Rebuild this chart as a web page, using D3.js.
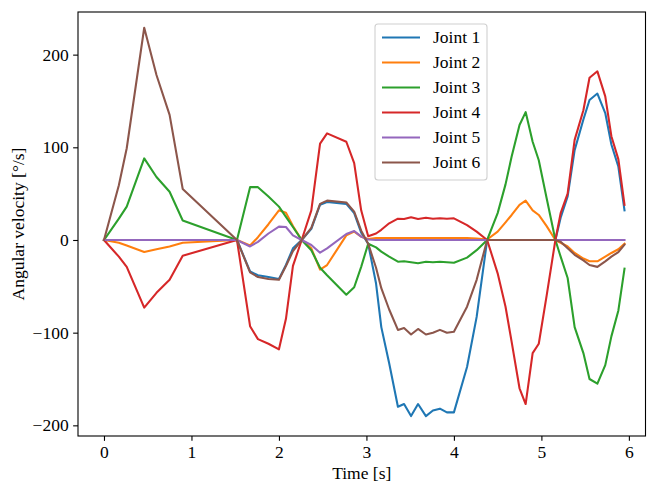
<!DOCTYPE html>
<html>
<head>
<meta charset="utf-8">
<script src="https://cdn.jsdelivr.net/npm/d3@7"></script>
<style>
  html, body { margin: 0; padding: 0; background: #fff; }
  svg { display: block; }
  text { font-family: "Liberation Serif", "DejaVu Serif", serif; fill: #000; }
</style>
</head>
<body>
<svg id="chart" width="647" height="487"></svg>
<script>
// ---- data ----
const times = [
  0, 0.17, 0.26, 0.46, 0.6, 0.75, 0.9, 1.52,
  1.67, 1.76, 1.88, 2.0, 2.08, 2.16, 2.26,
  2.37, 2.47, 2.55, 2.77, 2.86, 2.94, 3.02,
  3.11, 3.17, 3.26, 3.36, 3.43, 3.51, 3.59, 3.68, 3.76, 3.84, 3.92, 4.0, 4.15, 4.26, 4.38,
  4.5, 4.59, 4.66, 4.75, 4.82, 4.9, 4.97, 5.06, 5.16,
  5.22, 5.3, 5.38, 5.48, 5.55, 5.64, 5.73, 5.8, 5.88, 5.95
];
const joint1 = [
  0, 0, 0, 0, 0, 0, 0, 0,
  -34, -38, -40, -42, -27, -9, 0,
  12, 38, 41, 39, 29, 8, -4,
  -47, -94, -133, -180, -177, -190, -177, -190, -184, -182, -186, -186, -137, -83, 0,
  0, 0, 0, 0, 0, 0, 0, 0, 0,
  24, 47, 97, 130, 151, 158, 137, 103, 79, 32
];
const joint2 = [
  0, -3, -6, -13, -10, -7, -3, 0,
  -6, 3, 17, 32, 29.5, 15, 0,
  -9, -32, -27, 5, 9, 3.6, 1,
  2, 2, 2, 2, 2, 2, 2, 2, 2, 2, 2, 2, 2, 1.5, 0.5,
  9, 19, 27, 38, 42.5, 32, 27, 15, 0,
  -3, -7, -14, -20, -23, -23, -18, -14, -10, -4
];
const joint3 = [
  0, 23, 36, 88, 68, 52, 21, 0,
  57, 57, 47, 36, 25, 14, 0,
  -11, -30, -38, -59, -51, -29, -4,
  -8, -12.6, -18, -23.4, -23, -24, -25, -23.4, -24, -23.4, -24, -24.5, -19, -11, 0,
  29, 60, 90, 124, 138, 106, 86, 45, 0,
  -18, -41, -94, -122, -150, -155, -135, -104, -76, -31
];
const joint4 = [
  0, -18, -29, -73, -57, -43, -17, 0,
  -93, -107, -112, -118, -85, -28, 0,
  32, 104, 115, 106, 83, 32, 4,
  7, 11, 18, 23, 22.7, 24.5, 22.7, 24, 23, 23.4, 23, 23.4, 16, 9, 0,
  -36, -72, -110, -160, -177, -122, -112, -60, 0,
  29, 50, 108, 140, 175, 182, 155, 112, 87, 38
];
const joint5 = [
  0, 0, 0, 0, 0, 0, 0, 0,
  -7, -2, 7, 14.4, 14, 5, 0,
  -5.4, -13.7, -9, 6.5, 9.7, 3.6, 0.5,
  0, 0, 0, 0, 0, 0, 0, 0, 0, 0, 0, 0, 0, 0, 0,
  0, 0, 0, 0, 0, 0, 0, 0, 0,
  0, 0, 0, 0, 0, 0, 0, 0, 0, 0
];
const joint6 = [
  0, 59, 99, 229, 178, 135, 55, 0,
  -35, -40, -42, -43, -28, -12, 0,
  13, 39, 42.5, 40.5, 30.6, 10, -4,
  -30, -52, -75, -97, -95, -102, -96, -102, -100, -97, -100, -99, -72, -43, 0,
  0, 0, 0, 0, 0, 0, 0, 0, 0,
  -2, -9, -16, -22, -27, -29, -23, -18, -13, -5
];
const seriesNames = ["Joint 1", "Joint 2", "Joint 3", "Joint 4", "Joint 5", "Joint 6"];
const seriesValues = [joint1, joint2, joint3, joint4, joint5, joint6];
const colors = ["#1f77b4", "#ff7f0e", "#2ca02c", "#d62728", "#9467bd", "#8c564b"];
const xTicks = [0, 1, 2, 3, 4, 5, 6];
const yTicks = [-200, -100, 0, 100, 200];
const xLabel = "Time [s]";
const yLabel = "Angular velocity [\u00b0/s]";

// ---- layout ----
const L = 78, R = 645.5, T = 12, B = 436;
const FS = "17.5px";
const svg = d3.select("#chart");
const x = d3.scaleLinear().domain([-0.297, 6.19]).range([L, R]);
const y = d3.scaleLinear().domain([-211.5, 246]).range([B, T]);
const fmt = d => (d < 0 ? "\u2212" + Math.abs(d) : String(d));

// lines
const line = d3.line().x((d, i) => x(times[i])).y(d => y(d));
const plot = svg.append("g");
seriesValues.forEach((vals, k) => {
  plot.append("path")
    .attr("d", line(vals))
    .attr("fill", "none")
    .attr("stroke", colors[k])
    .attr("stroke-width", 2.08)
    .attr("stroke-linejoin", "round")
    .attr("stroke-linecap", "square");
});

// axes
const xAxis = d3.axisBottom(x).tickValues(xTicks).tickFormat(fmt).tickSize(4.86).tickPadding(4.5);
const yAxis = d3.axisLeft(y).tickValues(yTicks).tickFormat(fmt).tickSize(4.86).tickPadding(4.5);
const gx = svg.append("g").attr("transform", `translate(0,${B})`).call(xAxis);
const gy = svg.append("g").attr("transform", `translate(${L},0)`).call(yAxis);
[gx, gy].forEach(g => {
  g.select(".domain").remove();
  g.selectAll(".tick line").attr("stroke", "#000").attr("stroke-width", 1.1);
  g.selectAll(".tick text").attr("font-size", FS).attr("font-family", "Liberation Serif").attr("fill", "#000");
});

// frame
svg.append("rect")
  .attr("x", L).attr("y", T).attr("width", R - L).attr("height", B - T)
  .attr("fill", "none").attr("stroke", "#000").attr("stroke-width", 1.1);

// axis labels
svg.append("text")
  .attr("x", (L + R) / 2).attr("y", 479)
  .attr("text-anchor", "middle").attr("font-size", FS)
  .text(xLabel);
svg.append("text")
  .attr("transform", `translate(24,${(T + B) / 2}) rotate(-90)`)
  .attr("text-anchor", "middle").attr("font-size", FS)
  .text(yLabel);

// legend
const lg = svg.append("g");
lg.append("rect")
  .attr("x", 375).attr("y", 24).attr("width", 112).attr("height", 156)
  .attr("rx", 3).attr("fill", "#fff").attr("fill-opacity", 0.8)
  .attr("stroke", "#d0d0d0").attr("stroke-width", 1.1);
seriesNames.forEach((name, k) => {
  const yy = 37.5 + k * 25;
  lg.append("line")
    .attr("x1", 382).attr("x2", 420).attr("y1", yy).attr("y2", yy)
    .attr("stroke", colors[k]).attr("stroke-width", 2.08);
  lg.append("text")
    .attr("x", 433).attr("y", yy + 5.5)
    .attr("font-size", FS)
    .text(name);
});
</script>
</body>
</html>
